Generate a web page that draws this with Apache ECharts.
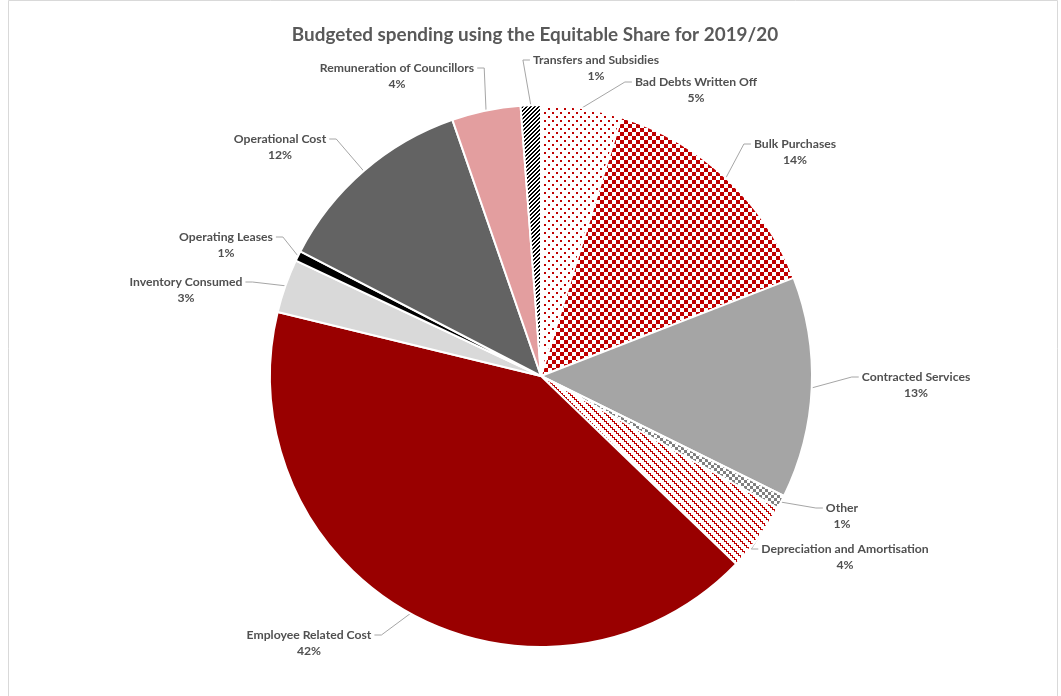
<!DOCTYPE html>
<html>
<head>
<meta charset="utf-8">
<title>Budgeted spending using the Equitable Share for 2019/20</title>
<script src="https://cdn.jsdelivr.net/npm/echarts@6/dist/echarts.min.js"></script>
<style>
  html, body { margin: 0; padding: 0; background: #ffffff; }
  #chart { width: 1061px; height: 696px; }
</style>
</head>
<body>
<div id="chart"></div>
<script>
// Spending categories, clockwise from 12 o'clock
const categories = [
  'Bad Debts Written Off',
  'Bulk Purchases',
  'Contracted Services',
  'Other',
  'Depreciation and Amortisation',
  'Employee Related Cost',
  'Inventory Consumed',
  'Operating Leases',
  'Operational Cost',
  'Remuneration of Councillors',
  'Transfers and Subsidies'
];
// Share of the equitable share budget (%)
const shares = [4.8, 14.3, 13.2, 0.8, 4.1, 41.6, 3.2, 0.6, 12.1, 4.1, 1.2];

const titleText = 'Budgeted spending using the Equitable Share for 2019/20';

// Small tiled fills, drawn pixel by pixel
function makeTile(w, h, bg, fg, cells) {
  const c = document.createElement('canvas');
  c.width = w; c.height = h;
  const g = c.getContext('2d');
  g.fillStyle = bg; g.fillRect(0, 0, w, h);
  g.fillStyle = fg;
  cells.forEach(([x, y, cw, ch]) => g.fillRect(x, y, cw || 1, ch || 1));
  return { image: c, repeat: 'repeat' };
}
function fromRows(rows, bg, fg) {
  const cells = [];
  rows.forEach((r, y) => { for (let x = 0; x < r.length; x++) if (r[x] === 'X') cells.push([x, y]); });
  return makeTile(rows[0].length, rows.length, bg, fg, cells);
}

const RED = '#c00000';
const dots = makeTile(8, 8, '#ffffff', RED, [[0, 0, 2, 2], [4, 4, 2, 2]]);
const redChecker = makeTile(8, 8, '#ffffff', RED, [[0, 0, 4, 4], [4, 4, 4, 4]]);
const grayChecker = makeTile(6, 6, '#ffffff', '#7f7f7f', [[0, 0, 3, 3], [3, 3, 3, 3]]);
const stripes = fromRows([
  'XX..',
  'X..X',
  '..XX',
  '.XX.'
], '#ffffff', '#000000');
const zigzag = fromRows([
  'X.......',
  'XXX.....',
  '..X.....',
  '..XXX...',
  '....X...',
  '....XXX.',
  '......X.',
  'X.....XX'
], '#ffffff', RED);

const fills = {
  'Bad Debts Written Off': dots,
  'Bulk Purchases': redChecker,
  'Contracted Services': '#a5a5a5',
  'Other': grayChecker,
  'Depreciation and Amortisation': zigzag,
  'Employee Related Cost': '#990000',
  'Inventory Consumed': '#d9d9d9',
  'Operating Leases': '#000000',
  'Operational Cost': '#636363',
  'Remuneration of Councillors': '#e39e9f',
  'Transfers and Subsidies': stripes
};

// Label placement: centre x of the text block, y of its first line
const labelSpots = {
  'Bad Debts Written Off': [696, 82],
  'Bulk Purchases': [795, 144],
  'Contracted Services': [916, 377],
  'Other': [842, 508],
  'Depreciation and Amortisation': [845, 549],
  'Employee Related Cost': [309, 635],
  'Inventory Consumed': [186, 282],
  'Operating Leases': [226, 237],
  'Operational Cost': [280, 139],
  'Remuneration of Councillors': [397, 68],
  'Transfers and Subsidies': [596, 60]
};
const LINE_H = 16;

const chart = echarts.init(document.getElementById('chart'), null, { renderer: 'canvas' });

chart.setOption({
  animation: false,
  backgroundColor: '#ffffff',
  graphic: [
    {
      type: 'rect', silent: true, z: -1,
      shape: { x: 8.5, y: 0.5, width: 1049, height: 700 },
      style: { fill: 'none', stroke: '#d9d9d9', lineWidth: 1 }
    },
    {
      type: 'text', silent: true,
      style: {
        text: titleText, x: 535, y: 35, align: 'center', verticalAlign: 'middle',
        fill: '#595959', font: 'bold 18.9px Lato, "Open Sans", sans-serif'
      }
    }
  ],
  series: [{
    type: 'pie',
    center: [541, 376],
    radius: [0, 271],
    startAngle: 90,
    clockwise: true,
    percentPrecision: 0,
    avoidLabelOverlap: false,
    itemStyle: { borderColor: '#ffffff', borderWidth: 2 },
    emphasis: { disabled: true },
    label: {
      show: true,
      position: 'outside',
      formatter: p => '{n|' + p.name + '}\n{n|' + p.percent + '%}',
      color: '#595959',
      rich: {
        n: {
          align: 'center', fontFamily: 'Lato, "Open Sans", sans-serif',
          fontWeight: 'bold', fontSize: 12.2, color: '#505050', lineHeight: LINE_H
        }
      }
    },
    labelLine: {
      show: true, length: 20, length2: 10,
      lineStyle: { color: '#a6a6a6', width: 1 }
    },
    labelLayout: function (params) {
      const name = categories[params.dataIndex];
      const spot = labelSpots[name];
      const w = params.labelRect.width;
      const top = spot[1] - LINE_H / 2;
      const p0 = params.labelLinePoints ? params.labelLinePoints[0] : null;
      const out = { x: spot[0], y: top, align: 'center', verticalAlign: 'top' };
      if (p0) {
        const toLeft = spot[0] < p0[0];
        const sideX = toLeft ? spot[0] + w / 2 + 3 : spot[0] - w / 2 - 3;
        const bendX = toLeft ? sideX + 7 : sideX - 7;
        out.labelLinePoints = [[p0[0], p0[1]], [bendX, spot[1]], [sideX, spot[1]]];
      }
      return out;
    },
    data: categories.map((name, i) => ({
      name: name,
      value: shares[i],
      itemStyle: { color: fills[name] }
    }))
  }]
});
</script>
</body>
</html>
